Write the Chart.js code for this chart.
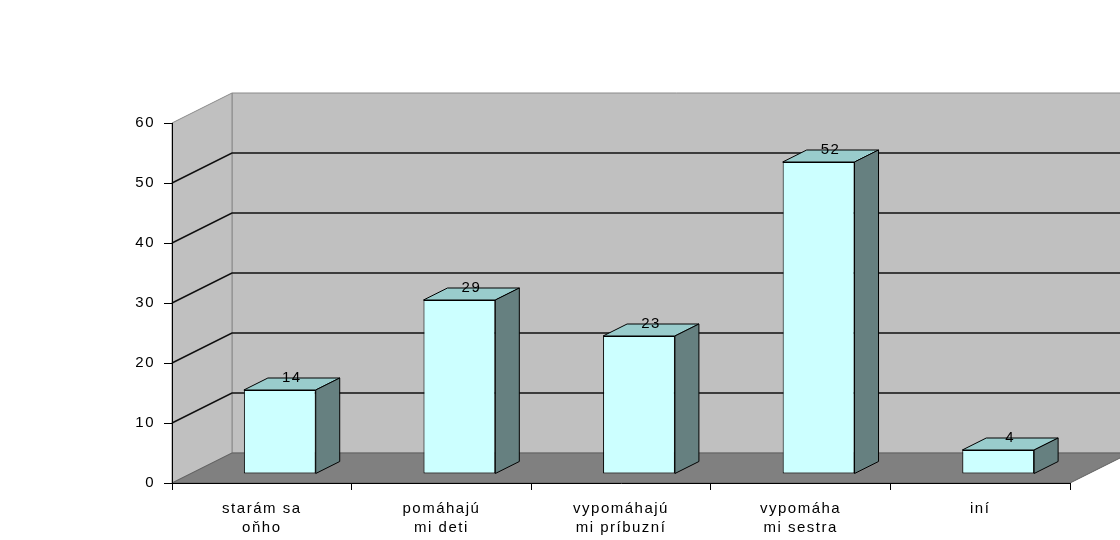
<!DOCTYPE html>
<html>
<head>
<meta charset="utf-8">
<script src="https://cdn.jsdelivr.net/npm/chart.js@4.4.0/dist/chart.umd.min.js"></script>
<style>
    body { margin: 0; background: #fff; }
    canvas { display: block; }
</style>
</head>
<body>
<canvas id="chart" width="1120" height="540"></canvas>
<script>
const categories = [
    ['starám sa', 'oňho'],
    ['pomáhajú', 'mi deti'],
    ['vypomáhajú', 'mi príbuzní'],
    ['vypomáha', 'mi sestra'],
    ['iní']
];
const values = [14, 29, 23, 52, 4];
const yTicks = [0, 10, 20, 30, 40, 50, 60];

// 3D look: wall depth, bar offset into the box, bar depth
const WALL = { dx: 60, dy: -30 };
const BAR_OFF = { dx: 18, dy: -9 };
const BAR_DEPTH = { dx: 24, dy: -12 };
const FONT = '"Liberation Sans", Arial, sans-serif';

function poly(ctx, pts, fill, stroke) {
    ctx.beginPath();
    ctx.moveTo(pts[0][0], pts[0][1]);
    for (let i = 1; i < pts.length; i++) ctx.lineTo(pts[i][0], pts[i][1]);
    ctx.closePath();
    if (fill) { ctx.fillStyle = fill; ctx.fill(); }
    if (stroke) { ctx.strokeStyle = stroke; ctx.lineWidth = 1; ctx.stroke(); }
}

const walls3d = {
    id: 'walls3d',
    beforeDraw(chart) {
        const { ctx, chartArea: a, scales } = chart;
        const L = a.left, R = a.right, T = a.top, B = a.bottom;
        // the old excel text is a bit wider than Arial
        ctx.letterSpacing = '1.5px';
        ctx.save();
        // back wall
        poly(ctx, [[L + WALL.dx, T + WALL.dy], [R + WALL.dx, T + WALL.dy],
                   [R + WALL.dx, B + WALL.dy], [L + WALL.dx, B + WALL.dy]], '#c0c0c0', '#8a8a8a');
        // side wall
        poly(ctx, [[L, T], [L + WALL.dx, T + WALL.dy], [L + WALL.dx, B + WALL.dy], [L, B]], '#c0c0c0', '#8a8a8a');
        // floor
        poly(ctx, [[L, B], [L + WALL.dx, B + WALL.dy], [R + WALL.dx, B + WALL.dy], [R, B]], '#808080', '#606060');

        // gridlines on side and back wall
        ctx.strokeStyle = '#111';
        ctx.lineWidth = 1.5;
        yTicks.forEach(v => {
            if (v === yTicks[0] || v === yTicks[yTicks.length - 1]) return;
            const y = scales.y.getPixelForValue(v);
            ctx.beginPath();
            ctx.moveTo(L, y);
            ctx.lineTo(L + WALL.dx, y + WALL.dy);
            ctx.lineTo(R + WALL.dx, y + WALL.dy);
            ctx.stroke();
        });
        ctx.restore();
    },
    beforeDatasetsDraw(chart) {
        chart.ctx.save();
        chart.ctx.translate(BAR_OFF.dx, BAR_OFF.dy);
    },
    afterDatasetsDraw(chart) {
        const ctx = chart.ctx;
        ctx.restore();
        const meta = chart.getDatasetMeta(0);
        ctx.save();
        meta.data.forEach((bar, i) => {
            const p = bar.getProps(['x', 'y', 'base', 'width'], true);
            const left = p.x - p.width / 2 + BAR_OFF.dx;
            const right = p.x + p.width / 2 + BAR_OFF.dx;
            const top = p.y + BAR_OFF.dy;
            const bottom = p.base + BAR_OFF.dy;
            // top face
            poly(ctx, [[left, top], [left + BAR_DEPTH.dx, top + BAR_DEPTH.dy],
                       [right + BAR_DEPTH.dx, top + BAR_DEPTH.dy], [right, top]], '#99cccc', '#000');
            // side face
            poly(ctx, [[right, top], [right + BAR_DEPTH.dx, top + BAR_DEPTH.dy],
                       [right + BAR_DEPTH.dx, bottom + BAR_DEPTH.dy], [right, bottom]], '#668080', '#000');

            // value label
            ctx.fillStyle = '#000';
            ctx.font = '15px ' + FONT;
            ctx.textAlign = 'center';
            ctx.textBaseline = 'middle';
            ctx.fillText(String(values[i]), p.x + 30, p.y - 21);
        });
        ctx.restore();
    }
};

const chart = new Chart(document.getElementById('chart'), {
    type: 'bar',
    data: {
        labels: categories,
        datasets: [{
            data: values,
            backgroundColor: '#ccffff',
            borderColor: '#000',
            borderWidth: 1,
            borderSkipped: false,
            categoryPercentage: 1,
            barPercentage: 0.4
        }]
    },
    options: {
        responsive: false,
        animation: false,
        layout: { padding: { top: 123, right: 50, left: 0, bottom: 0 } },
        plugins: {
            legend: { display: false },
            tooltip: { enabled: false }
        },
        scales: {
            x: {
                offset: true,
                grid: { offset: true, drawOnChartArea: false, drawTicks: true, tickLength: 7, color: '#000' },
                border: { display: true, color: '#000', width: 1 },
                ticks: {
                    color: '#000',
                    padding: 9,
                    maxRotation: 0,
                    autoSkip: false,
                    font: { family: FONT, size: 15, lineHeight: 1.3 }
                },
                afterFit(scale) { scale.height = 57; }
            },
            y: {
                min: 0,
                max: 60,
                ticks: {
                    stepSize: 10,
                    color: '#000',
                    padding: 9,
                    font: { family: FONT, size: 15 }
                },
                grid: { drawOnChartArea: false, drawTicks: true, tickLength: 8, color: '#000' },
                border: { display: true, color: '#000', width: 1 },
                afterFit(scale) { scale.width = 172; }
            }
        }
    },
    plugins: [walls3d]
});
</script>
</body>
</html>
